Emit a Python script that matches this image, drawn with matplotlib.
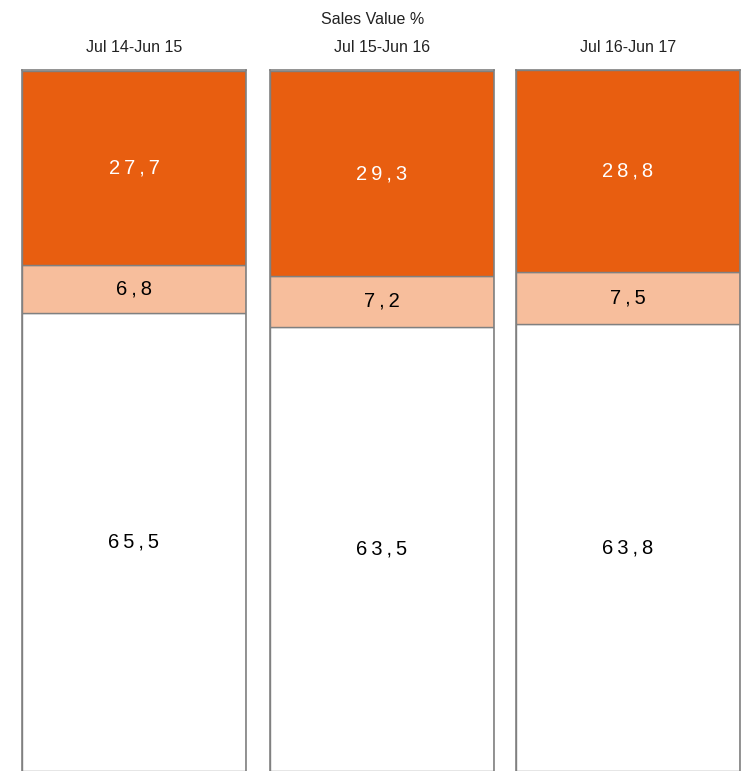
import matplotlib
matplotlib.use("Agg")
import matplotlib.pyplot as plt

# ------------------------------- DATA ---------------------------------------
periods   = ['Jul 14-Jun 15', 'Jul 15-Jun 16', 'Jul 16-Jun 17']
base      = [65.5, 63.5, 63.8]   # white bottom segment
mid       = [6.8, 7.2, 7.5]      # light peach segment
top       = [27.7, 29.3, 28.8]   # dark orange segment

# ------------------------------- STYLE --------------------------------------
plt.rcParams['font.family'] = ['Liberation Sans Narrow', 'Liberation Sans', 'DejaVu Sans']
ORANGE, PEACH, EDGE = '#E85E10', '#F7BE9C', '#808080'

W, H = 742, 771
fig = plt.figure(figsize=(W / 100, H / 100), dpi=100)
lefts = [22, 270, 516]
bw, btop, bbot = 224, 70, 771

def spaced(s, sep='\u200a'):
    # mimic the wide letter tracking of the original
    return sep.join(s)

def fmt(v):
    return spaced(f"{v:.1f}".replace('.', ','), '\u2009')

for i, x0 in enumerate(lefts):
    ax = fig.add_axes([x0 / W, (H - bbot) / H, bw / W, (bbot - btop) / H])
    segs = [(base[i], 'white', 'black'), (mid[i], PEACH, 'black'), (top[i], ORANGE, 'white')]
    b0 = 0
    for val, col, tcol in segs:
        ax.bar(0, val, bottom=b0, width=1, color=col, edgecolor=EDGE, lw=1)
        ax.text(0, b0 + val / 2, fmt(val), ha='center', va='center',
                fontsize=14.5, color=tcol)
        b0 += val
    ax.set_xlim(-0.5, 0.5); ax.set_ylim(0, 100.15)
    ax.set_xticks([]); ax.set_yticks([])
    for s in ax.spines.values():
        s.set_color(EDGE); s.set_linewidth(1.2)
    ax.spines['bottom'].set_visible(False)
    fig.text((x0 + bw / 2) / W, 1 - 47 / H, periods[i], ha='center', va='center',
             fontsize=11.5, color='#222222')

fig.text(373 / W, 1 - 20 / H, 'Sales Value %', ha='center', va='center',
         fontsize=11.5, color='#222222')

fig.savefig('out.png', dpi=100)
